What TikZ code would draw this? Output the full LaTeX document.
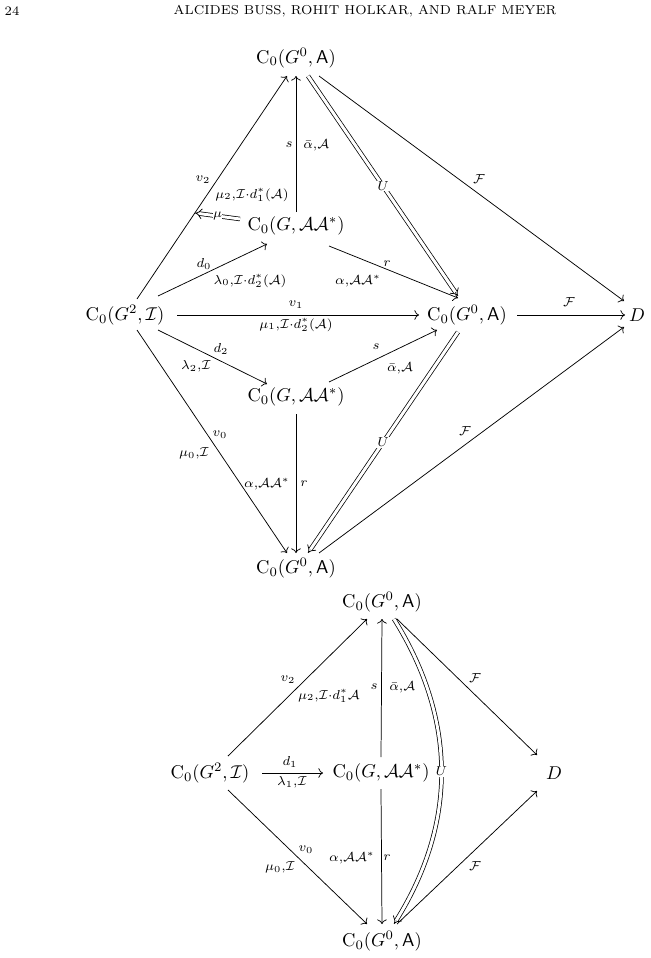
\documentclass[tikz,border=0pt]{standalone}
\usepackage{amsmath,amssymb}
\usetikzlibrary{arrows.meta}
\begin{document}
\begin{tikzpicture}[x=0.54pt,y=-0.54pt,
  ob/.style={inner sep=2pt},
  ar/.style={->},
  dbl/.style={double,double distance=1.6pt,-{Implies}},
  lb/.style={font=\scriptsize,inner sep=0.5pt},
  ul/.style={font=\scriptsize,fill=white,inner sep=0.5pt}]
\useasboundingbox (0,0) rectangle (651,958);
\newcommand{\CA}{\mathrm{C}_0(G^0,\mathsf{A})}
\newcommand{\CG}{\mathrm{C}_0(G,\mathcal{A}\mathcal{A}^*)}
\newcommand{\CI}{\mathrm{C}_0(G^2,\mathcal{I})}
\newcommand{\sh}[2]{([shift={#2}]#1.center)}
\newcommand{\cd}{{\cdot}}
\node[font=\scriptsize] (pg) at (12,11) {24};
\node[font=\scriptsize] (hd) at (365,11) {ALCIDES BUSS, ROHIT HOLKAR, AND RALF MEYER};
% diagram 1
\node[ob] (T) at (296,58) {$\CA$};
\node[ob] (M1) at (296,226) {$\CG$};
\node[ob] (L) at (125,315) {$\CI$};
\node[ob] (R) at (467,315) {$\CA$};
\node[ob] (D) at (637,315) {$D$};
\node[ob] (M2) at (296,397) {$\CG$};
\node[ob] (B) at (296,568) {$\CA$};
\draw[ar] \sh{L}{(12,-16)} -- \sh{T}{(-9,18)};
\node[lb] (lv2) at (203,180) {$v_2$};
\node[lb] (lm2) at (252,195) {$\mu_2{,}\mathcal{I}\cd d_1^*(\mathcal{A})$};
\draw[ar] \sh{M1}{(0,-14)} -- \sh{T}{(0,18)};
\node[lb] (ls1) at (289,145) {$s$};
\node[lb,anchor=west] (la1) at (302,145) {$\bar\alpha{,}\mathcal{A}$};
\coordinate (mua) at (240,219);
\coordinate (mub) at (195,213);
\draw[dbl] (mua) -- (mub) node[ul,midway,inner sep=0pt] {$\mu$};
\draw[dbl] \sh{T}{(12,18)} -- \sh{R}{(-9,-19)} node[ul,pos=0.5] {$U$};
\draw[ar] \sh{T}{(23,18)} -- \sh{D}{(-13,-14)};
\node[lb] (lf1) at (479,179) {$\mathcal{F}$};
\draw[ar] \sh{L}{(33,-19)} -- \sh{M1}{(-29,18)};
\node[lb] (ld0) at (204,264) {$d_0$};
\node[lb] (ll0) at (250,281) {$\lambda_0{,}\mathcal{I}\cd d_2^*(\mathcal{A})$};
\draw[ar] \sh{M1}{(33,20)} -- \sh{R}{(-9,-17)};
\node[lb] (lr1) at (387,264) {$r$};
\node[lb] (lal1) at (358,281) {$\alpha{,}\mathcal{A}\mathcal{A}^*$};
\draw[ar] \sh{L}{(52,0)} -- \sh{R}{(-48,0)};
\node[lb] (lv1) at (296,305) {$v_1$};
\node[lb] (lm1) at (296,325) {$\mu_1{,}\mathcal{I}\cd d_2^*(\mathcal{A})$};
\draw[ar] \sh{R}{(50,0)} -- \sh{D}{(-12,0)};
\node[lb] (lf2) at (569,302) {$\mathcal{F}$};
\draw[ar] \sh{L}{(33,15)} -- \sh{M2}{(-29,-13)};
\node[lb] (ld2) at (221,349) {$d_2$};
\node[lb] (ll2) at (196,366) {$\lambda_2{,}\mathcal{I}$};
\draw[ar] \sh{M2}{(33,-15)} -- \sh{R}{(-30,15)};
\node[lb] (ls2) at (376,347) {$s$};
\node[lb] (la2) at (400,368) {$\bar\alpha{,}\mathcal{A}$};
\draw[dbl] \sh{R}{(-9,17)} -- \sh{B}{(12,-15)} node[ul,pos=0.5] {$U$};
\draw[ar] \sh{B}{(23,-15)} -- \sh{D}{(-13,12)};
\node[lb] (lf3) at (465,431) {$\mathcal{F}$};
\draw[ar] \sh{L}{(12,15)} -- \sh{B}{(-9,-15)};
\node[lb] (lv0) at (220,435) {$v_0$};
\node[lb] (lm0) at (194,453) {$\mu_0{,}\mathcal{I}$};
\draw[ar] \sh{M2}{(0,17)} -- \sh{B}{(0,-15)};
\node[lb,anchor=east] (lal2) at (291,484) {$\alpha{,}\mathcal{A}\mathcal{A}^*$};
\node[lb] (lr2) at (304,484) {$r$};
% diagram 2
\node[ob] (T2) at (382,602) {$\CA$};
\node[ob] (L2) at (210,773) {$\CI$};
\node[ob] (N2) at (381,773) {$\CG$};
\node[ob] (D2) at (554,773) {$D$};
\node[ob] (B2) at (382,941) {$\CA$};
\draw[ar] \sh{L2}{(18,-17)} -- \sh{T2}{(-15,17)};
\node[lb] (kv2) at (288,680) {$v_2$};
\node[lb] (km2) at (329,696) {$\mu_2{,}\mathcal{I}\cd d_1^*\mathcal{A}$};
\draw[ar] \sh{L2}{(52,0)} -- \sh{N2}{(-58,0)};
\node[lb] (kd1) at (290,762) {$d_1$};
\node[lb] (kl1) at (292,782) {$\lambda_1{,}\mathcal{I}$};
\draw[ar] \sh{N2}{(0,-16)} -- \sh{T2}{(0,17)};
\node[lb] (ks) at (374,687) {$s$};
\node[lb,anchor=west] (ka) at (388,687) {$\bar\alpha{,}\mathcal{A}$};
\draw[ar] \sh{T2}{(15,17)} -- \sh{D2}{(-17,-18)};
\node[lb] (kf1) at (475,678) {$\mathcal{F}$};
\draw[dbl] ([shift={(12,17)}]T2.center) to[bend left=32] node[ul,pos=0.5] {$U$} ([shift={(12,-17)}]B2.center);
\draw[ar] \sh{B2}{(15,-17)} -- \sh{D2}{(-17,18)};
\node[lb] (kf2) at (475,866) {$\mathcal{F}$};
\draw[ar] \sh{L2}{(18,17)} -- \sh{B2}{(-15,-17)};
\node[lb] (kv0) at (306,850) {$v_0$};
\node[lb] (km0) at (280,867) {$\mu_0{,}\mathcal{I}$};
\draw[ar] \sh{N2}{(0,16)} -- \sh{B2}{(0,-17)};
\node[lb,anchor=east] (kal) at (376,858) {$\alpha{,}\mathcal{A}\mathcal{A}^*$};
\node[lb] (kr) at (387,858) {$r$};
\end{tikzpicture}
\end{document}
